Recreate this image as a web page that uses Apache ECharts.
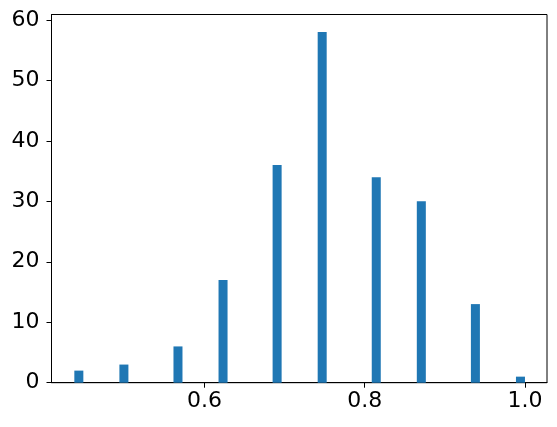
<!DOCTYPE html>
<html><head><meta charset="utf-8">
<script src="https://cdn.jsdelivr.net/npm/echarts@6/dist/echarts.min.js"></script>
<style>html,body{margin:0;padding:0;background:#fff}#c{width:557px;height:427px}</style>
</head><body><div id="c"></div>
<script>
// Histogram bins (50 bins from 0.4375 to 1.0), only non-empty bins listed
const binLeft = [0.4375, 0.49375, 0.56125, 0.6175, 0.685, 0.74125, 0.80875, 0.865, 0.9325, 0.98875];
const binRight = [0.44875, 0.505, 0.5725, 0.62875, 0.69625, 0.7525, 0.82, 0.87625, 0.94375, 1.0];
const counts = [2, 3, 6, 17, 36, 58, 34, 30, 13, 1];
const xTicks = [0.6, 0.8, 1.0];
const yTicks = [0, 10, 20, 30, 40, 50, 60];

const data = binLeft.map((l, i) => [l, binRight[i], counts[i]]);
const font = 'DejaVu Sans';
const chart = echarts.init(document.getElementById('c'), null, {renderer: 'canvas'});
chart.setOption({
  animation: false,
  grid: {left: 51.5, right: 10, top: 14.5, bottom: 44.3, show: true, borderColor: '#000', borderWidth: 1, backgroundColor: 'transparent'},
  xAxis: {
    type: 'value', min: 0.409, max: 1.0275,
    splitLine: {show: false},
    axisLine: {show: true, onZero: false, lineStyle: {color: '#000', width: 1}},
    axisTick: {show: true, inside: false, length: 5, customValues: xTicks, lineStyle: {color: '#000', width: 1}},
    axisLabel: {customValues: xTicks, formatter: v => v.toFixed(1), color: '#000', fontSize: 22, fontFamily: font, margin: 8}
  },
  yAxis: {
    type: 'value', min: 0, max: 60.9,
    splitLine: {show: false},
    axisLine: {show: true, onZero: false, lineStyle: {color: '#000', width: 1}},
    axisTick: {show: true, inside: false, length: 5, customValues: yTicks, lineStyle: {color: '#000', width: 1}},
    axisLabel: {customValues: yTicks, color: '#000', fontSize: 22, fontFamily: font, margin: 12}
  },
  series: [{
    type: 'custom',
    data: data,
    encode: {x: [0, 1], y: 2},
    renderItem: function (params, api) {
      const p0 = api.coord([api.value(0), api.value(2)]);
      const p1 = api.coord([api.value(1), 0]);
      return {type: 'rect', shape: {x: p0[0], y: p0[1], width: p1[0] - p0[0], height: p1[1] - p0[1]}, style: {fill: '#1f77b4'}};
    }
  }]
});
</script></body></html>
